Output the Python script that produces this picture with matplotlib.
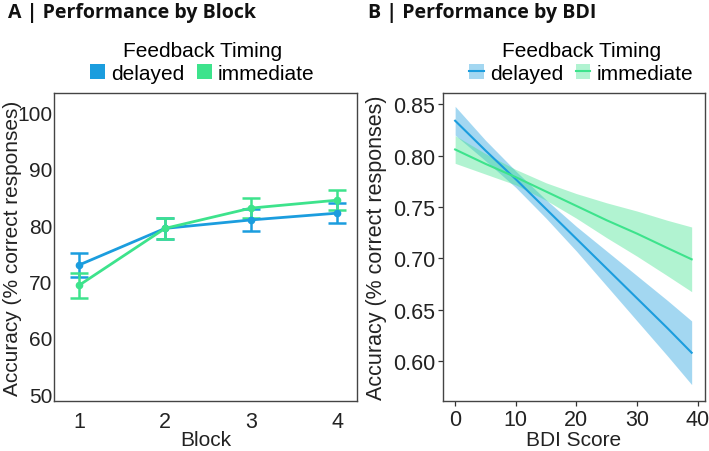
import matplotlib
matplotlib.use("Agg")
import matplotlib.pyplot as plt
from matplotlib.patches import Patch
from matplotlib.lines import Line2D

# ---- data ----
blocks = [1, 2, 3, 4]
delayed_acc = [72.9, 79.4, 80.9, 82.1]
delayed_se = [2.1, 1.9, 1.9, 1.8]
immediate_acc = [69.3, 79.4, 83.0, 84.4]
immediate_se = [2.2, 1.9, 1.8, 1.8]

bdi = [0, 5, 10, 15, 20, 25, 30, 35, 39]
delayed_fit = [0.834, 0.805, 0.777, 0.748, 0.719, 0.690, 0.661, 0.632, 0.608]
delayed_lo = [0.820, 0.795, 0.769, 0.739, 0.707, 0.673, 0.639, 0.605, 0.577]
delayed_hi = [0.848, 0.815, 0.785, 0.757, 0.731, 0.707, 0.683, 0.659, 0.639]
immediate_fit = [0.806, 0.792, 0.779, 0.765, 0.751, 0.737, 0.724, 0.710, 0.699]
immediate_lo = [0.7925, 0.782, 0.7715, 0.7565, 0.739, 0.720, 0.702, 0.683, 0.6675]
immediate_hi = [0.8195, 0.802, 0.7865, 0.7735, 0.763, 0.754, 0.746, 0.737, 0.7305]

series = ["delayed", "immediate"]
BLUE = "#1B9DDE"
GREEN = "#3DE38C"
TXT = '#222222'

plt.rcParams['font.family'] = ['Liberation Sans', 'DejaVu Sans']
fig = plt.figure(figsize=(7.09, 4.52), dpi=100)

axA = fig.add_axes([54/709, 1-402/452, 303/709, 308/452])
axB = fig.add_axes([443/709, 1-402/452, 262/709, 308/452])

# ---- Panel A ----
for acc, se, col in [(delayed_acc, delayed_se, BLUE), (immediate_acc, immediate_se, GREEN)]:
    axA.errorbar(blocks, acc, yerr=se, color=col, lw=2, marker='o', ms=4.5,
                 capsize=6.5, capthick=1.8, elinewidth=1.8)
axA.set_xlim(0.71, 4.23)
axA.set_ylim(48.8, 103.4)
axA.set_xticks(blocks)
axA.set_yticks([50, 60, 70, 80, 90, 100])
axA.tick_params(axis='y', length=0, labelsize=15, pad=1, colors=TXT)
axA.tick_params(axis='x', length=0, labelsize=15.5, pad=7, colors=TXT)
axA.set_xlabel("Block", fontsize=15, labelpad=-1, color=TXT)
axA.set_ylabel("Accuracy (% correct responses)", fontsize=15, color=TXT)
axA.yaxis.set_label_coords(-0.106, 0.5)

hA = [Patch(facecolor=BLUE, edgecolor='none'), Patch(facecolor=GREEN, edgecolor='none')]
axA.legend(hA, series, title="Feedback Timing", ncol=2, loc='lower center',
           bbox_to_anchor=(0.49, 1.0), frameon=False, fontsize=15, title_fontsize=15,
           handlelength=0.7, handleheight=0.7, handletextpad=0.3, columnspacing=0.6,
           borderpad=0.2, borderaxespad=0.3, labelspacing=0.15)

# ---- Panel B ----
for fit, lo, hi, col in [(delayed_fit, delayed_lo, delayed_hi, BLUE),
                         (immediate_fit, immediate_lo, immediate_hi, GREEN)]:
    axB.fill_between(bdi, lo, hi, color=col, alpha=0.4, lw=0)
    axB.plot(bdi, fit, color=col, lw=1.5)
axB.set_xlim(-2.0, 41.2)
axB.set_ylim(0.561, 0.861)
axB.set_xticks([0, 10, 20, 30, 40])
axB.set_yticks([0.60, 0.65, 0.70, 0.75, 0.80, 0.85])
axB.set_yticklabels(["0.60", "0.65", "0.70", "0.75", "0.80", "0.85"])
axB.tick_params(length=3.5, width=0.9, labelsize=15.5, pad=2, colors='#333333', labelcolor=TXT)
axB.set_xlabel("BDI Score", fontsize=15, labelpad=0, color=TXT)
axB.set_ylabel("Accuracy (% correct responses)", fontsize=15.5, color=TXT)
axB.yaxis.set_label_coords(-0.215, 0.5)

hB = [(Patch(facecolor=BLUE, alpha=0.4, edgecolor='none'), Line2D([], [], color=BLUE, lw=1.5)),
      (Patch(facecolor=GREEN, alpha=0.4, edgecolor='none'), Line2D([], [], color=GREEN, lw=1.5))]
axB.legend(hB, series, title="Feedback Timing", ncol=2, loc='lower center',
           bbox_to_anchor=(0.527, 1.0), frameon=False, fontsize=15, title_fontsize=15,
           handlelength=0.7, handleheight=0.7, handletextpad=0.3, columnspacing=0.6,
           borderpad=0.2, borderaxespad=0.3, labelspacing=0.15)

for ax in (axA, axB):
    for s in ax.spines.values():
        s.set_color('#444444')
        s.set_linewidth(1.0)

fig.text(8/709, 1-3/452, "A | Performance by Block", fontsize=14, fontweight='bold',
         family=['Open Sans', 'DejaVu Sans'], va='top', ha='left', color='#111111')
fig.text(368/709, 1-3/452, "B | Performance by BDI", fontsize=14, fontweight='bold',
         family=['Open Sans', 'DejaVu Sans'], va='top', ha='left', color='#111111')

fig.savefig("out.png", dpi=100)
